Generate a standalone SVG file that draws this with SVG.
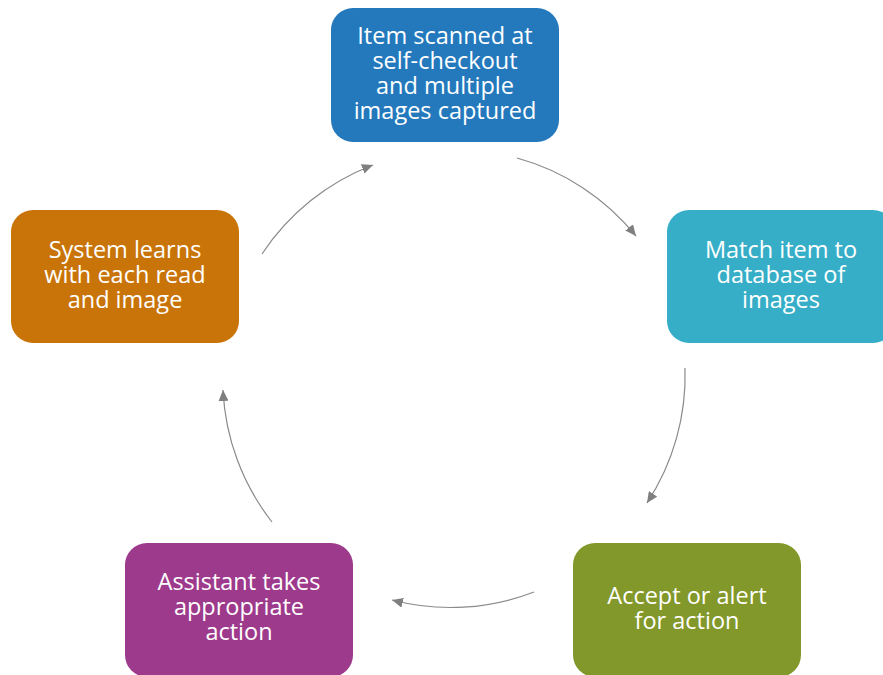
<svg xmlns="http://www.w3.org/2000/svg" width="883" height="675" viewBox="0 0 883 675">
<defs>
<marker id="ah" markerUnits="userSpaceOnUse" markerWidth="12" markerHeight="10" refX="11" refY="5" orient="auto">
<path d="M0,0 L11,5 L0,10 Z" fill="#7f7f7f"/>
</marker>
</defs>
<style>
.box{stroke:none}
.t{font-family:"Open Sans","Noto Sans","Liberation Sans",sans-serif;font-size:23.5px;fill:#ffffff;text-anchor:middle}
.c{fill:none;stroke:#8a8a8a;stroke-width:1.2;marker-end:url(#ah)}
</style>
<rect width="883" height="675" fill="#ffffff"/>
<g id="connectors">
<path class="c" d="M517,158 A232,232 0 0 1 636,236"/>
<path class="c" d="M685,368 A232,232 0 0 1 647,503"/>
<path class="c" d="M534,592 A232,232 0 0 1 392,600"/>
<path class="c" d="M272,522 A232,232 0 0 1 223,390"/>
<path class="c" d="M262,254 A232,232 0 0 1 373,165"/>
</g>
<g id="n1">
<rect class="box" x="331" y="8" width="228" height="134" rx="22" fill="#2479bd"/>
<text class="t"><tspan x="445" y="44">Item scanned at</tspan><tspan x="445" y="69">self-checkout</tspan><tspan x="445" y="94">and multiple</tspan><tspan x="445" y="119">images captured</tspan></text>
</g>
<g id="n2">
<rect class="box" x="667" y="210" width="228" height="133" rx="22" fill="#36aec8"/>
<text class="t"><tspan x="781" y="258">Match item to</tspan><tspan x="781" y="283">database of</tspan><tspan x="781" y="308">images</tspan></text>
</g>
<g id="n3">
<rect class="box" x="573" y="543" width="228" height="134" rx="22" fill="#83982a"/>
<text class="t"><tspan x="687" y="604">Accept or alert</tspan><tspan x="687" y="629">for action</tspan></text>
</g>
<g id="n4">
<rect class="box" x="125" y="543" width="228" height="134" rx="22" fill="#9d3a8c"/>
<text class="t"><tspan x="239" y="590">Assistant takes</tspan><tspan x="239" y="615">appropriate</tspan><tspan x="239" y="640">action</tspan></text>
</g>
<g id="n5">
<rect class="box" x="11" y="210" width="228" height="133" rx="22" fill="#c97408"/>
<text class="t"><tspan x="125" y="258">System learns</tspan><tspan x="125" y="283">with each read</tspan><tspan x="125" y="308">and image</tspan></text>
</g>
</svg>
